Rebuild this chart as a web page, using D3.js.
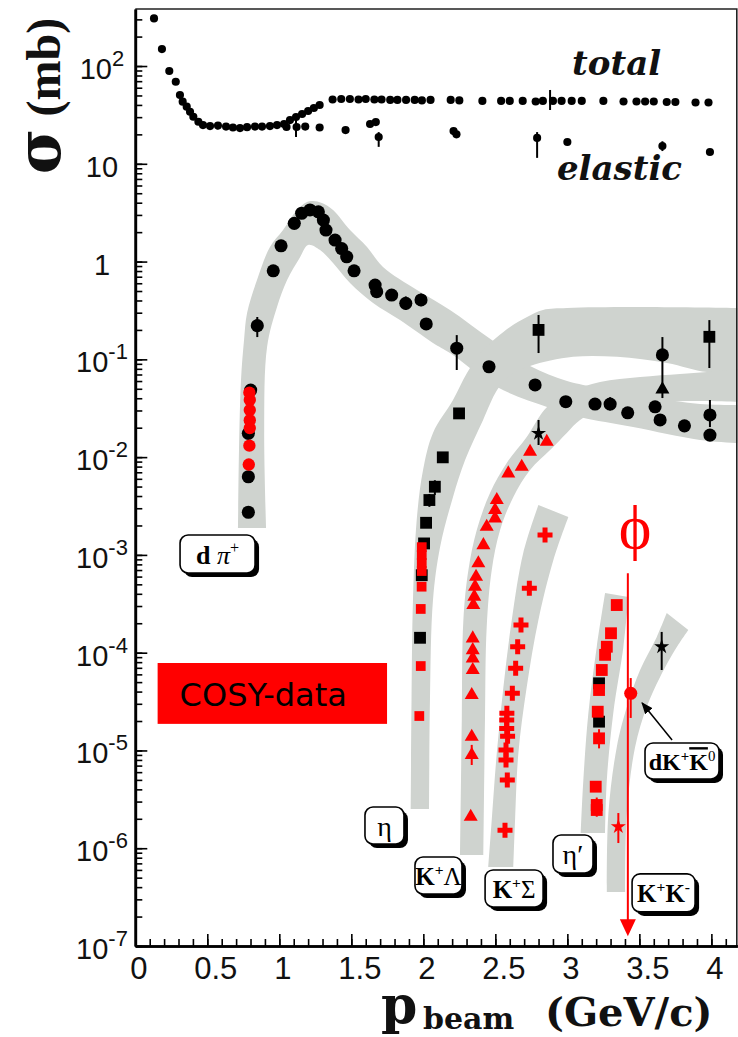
<!DOCTYPE html>
<html>
<head>
<meta charset="utf-8">
<script src="https://cdn.jsdelivr.net/npm/d3@7"></script>
<style>
  body { margin: 0; background: #fff; }
  svg { display: block; }
</style>
</head>
<body>
<svg id="chart" width="738" height="1037"></svg>
<script>
// ---- ticks ----
const xTicks = [0, 0.5, 1, 1.5, 2, 2.5, 3, 3.5, 4];
const xTickLabels = ['0', '0.5', '1', '1.5', '2', '2.5', '3', '3.5', '4'];
const yTicks = [1e-7, 1e-6, 1e-5, 1e-4, 1e-3, 1e-2, 1e-1, 1, 10, 100];
const yTickLabels = [['10', '-7'], ['10', '-6'], ['10', '-5'], ['10', '-4'], ['10', '-3'],
  ['10', '-2'], ['10', '-1'], ['1', ''], ['10', ''], ['10', '2']];

// ---- data points: [p_beam (GeV/c), sigma (mb)] ----
const totalXS = [[0.13, 307], [0.185, 149], [0.236, 88.9], [0.281, 69], [0.31, 50.5], [0.329, 43.2],
  [0.357, 38.4], [0.38, 34.1], [0.403, 30.3], [0.438, 26.9], [0.47, 24.9], [0.519, 24.3], [0.574, 24.6],
  [0.63, 24.0], [0.678, 23.5], [0.727, 23.2], [0.776, 23.7], [0.831, 24.0], [0.88, 24.0], [0.935, 24.3],
  [0.984, 24.9], [1.033, 25.5], [1.074, 28.0], [1.116, 30.1], [1.158, 32.3], [1.2, 34.7], [1.24, 37.2],
  [1.28, 39.9], [1.37, 45.4], [1.43, 46], [1.49, 46], [1.55, 45.5], [1.6, 46], [1.66, 45.5], [1.71, 45.5],
  [1.77, 45], [1.82, 45], [1.88, 45], [1.94, 45], [1.99, 44.5], [2.05, 45], [2.19, 45], [2.25, 44.5],
  [2.41, 44], [2.54, 44], [2.6, 44], [2.69, 44], [2.78, 43.4], [2.83, 44], [2.9, 44], [2.96, 44],
  [3.03, 44], [3.1, 44], [3.25, 44], [3.39, 43.4], [3.48, 43.4], [3.54, 43.4], [3.6, 43.4], [3.69, 42.9],
  [3.75, 42.9], [3.89, 42.4], [3.98, 42.4]];
const elasticXS = [[1.05, 23.8], [1.12, 23.8], [1.18, 24], [1.28, 23.5], [1.46, 22.1], [1.63, 25.5],
  [1.67, 26.7], [1.69, 18.8], [2.21, 21.6], [2.23, 20.0], [2.79, 18.4], [3.0, 16.7], [3.66, 15.2], [3.99, 13.2]];

const dpiBlack = [[0.785, 0.00273], [0.785, 0.0063], [0.785, 0.0175], [0.801, 0.0485], [0.847, 0.221],
  [0.958, 0.805], [1.012, 1.45], [1.104, 2.46], [1.155, 3.12], [1.213, 3.37], [1.271, 3.23], [1.306, 2.66],
  [1.324, 2.1], [1.387, 1.66], [1.433, 1.36], [1.468, 1.12], [1.519, 0.805], [1.665, 0.575], [1.676, 0.492],
  [1.78, 0.455], [1.878, 0.374], [1.984, 0.405], [2.02, 0.23], [2.232, 0.13], [2.456, 0.084], [2.776, 0.0547],
  [2.989, 0.0369], [3.192, 0.0349], [3.297, 0.0349], [3.419, 0.0284], [3.609, 0.0327], [3.644, 0.024],
  [3.813, 0.0209], [3.99, 0.027], [3.99, 0.0168]];
const dpiRed = [[0.792, 0.0456], [0.795, 0.0384], [0.795, 0.0303], [0.795, 0.0239], [0.795, 0.0198],
  [0.792, 0.0131], [0.788, 0.0084]];

const etaBlack = [[2.8, 0.2], [3.986, 0.17], [2.248, 0.028], [2.135, 0.00995], [2.08, 0.00498],
  [2.042, 0.00364], [2.019, 0.00213], [2.005, 0.00131], [1.989, 6.2e-4], [1.977, 1.42e-4]];
const etaBlackCircle = [[3.66, 0.111]];
const etaRed = [[1.989, 1.2e-3], [1.989, 9.97e-4], [1.989, 8.26e-4], [1.989, 6.84e-4], [1.988, 4.73e-4],
  [1.982, 2.8e-4], [1.982, 7.3e-5], [1.972, 2.25e-5]];

const kLambdaRed = [[2.857, 0.01436], [2.741, 0.01135], [2.683, 0.00797], [2.59, 0.00682], [2.51, 0.00364],
  [2.498, 0.00288], [2.498, 0.00236], [2.44, 0.00194], [2.417, 0.00126], [2.382, 8.2e-4], [2.366, 5.98e-4],
  [2.359, 4.73e-4], [2.354, 3.74e-4], [2.347, 3.07e-4], [2.343, 1.4e-4], [2.343, 1.06e-4], [2.343, 8.75e-5],
  [2.343, 6.65e-5], [2.336, 3.69e-5], [2.336, 1.38e-5], [2.336, 8.97e-6], [2.329, 2.1e-6]];
const kLambdaBlack = [[3.66, 0.0493]];
const kLambdaBlackStar = [[2.8, 0.0175]];

const kSigmaRed = [[2.845, 0.0016], [2.736, 4.55e-4], [2.678, 1.92e-4], [2.655, 1.15e-4], [2.641, 6.92e-5],
  [2.618, 3.84e-5], [2.58, 2.4e-5], [2.579, 2.05e-5], [2.579, 1.68e-5], [2.585, 1.4e-5], [2.574, 1.01e-5],
  [2.574, 7.98e-6], [2.583, 4.99e-6], [2.567, 1.53e-6]];

const etaPrimeRed = [[3.343, 3.07e-4], [3.303, 1.58e-4], [3.274, 1.15e-4], [3.262, 9.5e-5], [3.239, 6.65e-5],
  [3.22, 4.15e-5], [3.211, 2.49e-5], [3.22, 1.33e-5], [3.197, 4.26e-6], [3.204, 2.77e-6], [3.204, 2.46e-6]];
const etaPrimeBlack = [[3.22, 4.86e-5], [3.22, 1.97e-5]];

const kkRedStar = [[3.354, 1.66e-6]];
const kkRedCircle = [[3.44, 3.84e-5]];
const dkkBlackStar = [[3.655, 1.15e-4]];

// error bars: [p, low, high]
const errBlack = [[0.57, 22.5, 26.5], [1.116, 18.8, 28], [2.88, 35.5, 56.9], [1.69, 14.9, 21.1],
  [2.79, 11.5, 21.1], [3.66, 13.5, 17], [0.847, 0.169, 0.271], [2.232, 0.0778, 0.177],
  [3.99, 0.0203, 0.0384], [1.878, 0.32, 0.44], [1.984, 0.35, 0.47], [3.297, 0.03, 0.041],
  [0.801, 0.043, 0.055], [2.8, 0.116, 0.284], [3.986, 0.0815, 0.252], [3.66, 0.0402, 0.169],
  [2.08, 0.0041, 0.0058], [2.042, 0.0031, 0.0042], [2.8, 0.0133, 0.024], [3.655, 6.65e-5, 1.63e-4]];
const errRed = [[2.336, 7.1e-6, 1.14e-5], [3.354, 1.13e-6, 2.29e-6], [3.44, 2.15e-5, 5.5e-5],
  [3.22, 1.05e-5, 1.65e-5], [3.204, 2.1e-6, 3.3e-6]];

// ---- grey bands: two edges each, [p, sigma] ----
const dpiEdgeA = [[0.713, 1.88e-3], [0.720, 0.0118], [0.734, 0.0615], [0.755, 0.158], [0.776, 0.298],
  [0.845, 0.647], [0.935, 1.41], [1.026, 2.10], [1.123, 3.37], [1.192, 4.06], [1.234, 4.16], [1.296, 3.97],
  [1.373, 3.37], [1.491, 2.10], [1.609, 1.41], [1.720, 0.88], [1.956, 0.512], [2.185, 0.32], [2.456, 0.165],
  [2.741, 0.0855], [2.998, 0.0601], [3.227, 0.0509], [3.574, 0.0412], [3.921, 0.0349], [4.199, 0.0341]];
const dpiEdgeB = [[4.199, 0.0139], [3.921, 0.015], [3.456, 0.0203], [3.088, 0.0257], [2.859, 0.0326],
  [2.512, 0.0521], [2.185, 0.116], [2.067, 0.147], [1.838, 0.252], [1.651, 0.377], [1.491, 0.604],
  [1.373, 0.966], [1.283, 1.31], [1.2, 1.48], [1.144, 1.11], [1.054, 0.647], [0.984, 0.343], [0.915, 0.134],
  [0.895, 0.0189], [0.908, 1.88e-3]];
const etaEdgeA = [[1.9125, 2.52e-6], [1.918, 3.28e-5], [1.928, 3.46e-4], [1.954, 2.28e-3], [1.998, 7.38e-3],
  [2.067, 0.0177], [2.206, 0.0384], [2.303, 0.0725], [2.415, 0.124], [2.602, 0.214], [2.72, 0.271],
  [2.831, 0.32], [2.998, 0.335], [3.456, 0.343], [4.199, 0.335]];
const etaEdgeB = [[4.199, 0.0778], [3.97, 0.0743], [3.692, 0.0918], [3.345, 0.106], [3.04, 0.106],
  [2.741, 0.0855], [2.602, 0.0692], [2.512, 0.0485], [2.415, 0.024], [2.29, 9.35e-3], [2.206, 3.91e-3],
  [2.116, 1.2e-3], [2.067, 3.46e-4], [2.046, 3.28e-5], [2.04, 2.52e-6]];
const klEdgeA = [[2.255, 8.53e-7], [2.267, 2.05e-5], [2.278, 2.16e-4], [2.313, 7.02e-4], [2.371, 1.8e-3],
  [2.463, 4.3e-3], [2.579, 8.71e-3], [2.718, 0.0161], [2.859, 0.0326], [3.019, 0.0463], [3.227, 0.0586],
  [3.505, 0.0659], [3.782, 0.0708], [3.97, 0.0743], [4.199, 0.0796]];
const klEdgeB = [[4.199, 0.0366], [3.921, 0.0375], [3.505, 0.0358], [3.227, 0.0303], [3.088, 0.024],
  [2.996, 0.0177], [2.88, 0.0118], [2.741, 7.38e-3], [2.625, 3.91e-3], [2.533, 1.8e-3], [2.475, 7.02e-4],
  [2.44, 1.83e-4], [2.428, 2.05e-5], [2.417, 8.53e-7]];
const ksEdgeA = [[2.451, 6.43e-7], [2.475, 1.95e-6], [2.51, 9.42e-6], [2.556, 4.46e-5], [2.614, 2.16e-4],
  [2.694, 1.05e-3], [2.799, 3.24e-3]];
const ksEdgeB = [[3.007, 2.44e-3], [2.903, 8.87e-4], [2.799, 2.16e-4], [2.718, 4.46e-5], [2.66, 9.42e-6],
  [2.637, 1.95e-6], [2.625, 6.43e-7]];
const etapEdgeA = [[3.093, 1.43e-6], [3.111, 4.99e-6], [3.146, 2.42e-5], [3.204, 1.14e-4], [3.262, 4.07e-4]];
const etapEdgeB = [[3.424, 3.71e-4], [3.389, 1.14e-4], [3.319, 2.42e-5], [3.274, 4.99e-6], [3.262, 1.43e-6]];
const kkEdgeA = [[3.274, 3.56e-7], [3.285, 2.29e-6], [3.343, 1.08e-5], [3.413, 2.78e-5], [3.505, 6.65e-5],
  [3.621, 1.45e-4], [3.69, 2.55e-4]];
const kkEdgeB = [[3.84, 1.71e-4], [3.76, 1.14e-4], [3.644, 5.64e-5], [3.551, 2.78e-5], [3.47, 1.08e-5],
  [3.413, 2.29e-6], [3.401, 3.56e-7]];

// ---- annotations (anchors in data coords) ----
const boxAnchors = [[0.585, 9.75e-4], [1.744, 1.63e-6], [2.119, 5.02e-7], [2.644, 3.7e-7],
  [3.053, 8.33e-7], [3.682, 3.33e-7], [3.81, 7.45e-6]];
const boxTexts = [
  [['d', 'b'], [' ', ''], ['π', 'i'], ['+', '^']],
  [['η', '']],
  [['K', 'b'], ['+', '^b'], ['Λ', '']],
  [['K', 'b'], ['+', '^b'], ['Σ', '']],
  [['η′', '']],
  [['K', 'b'], ['+', '^b'], ['K', 'b'], ['-', '^b']],
  [['dK', 'b'], ['+', '^b'], ['K', 'bo'], ['0', '^']]
];
const dkkArrow = [[3.727, 1.28e-5], [3.519, 3.06e-5]];
const phiLine = [3.42, 6.5e-4, 1.26e-7];
const phiLabel = [3.47, 1.18e-3];
const cosyBox = [[0.155, 7.84e-5], [1.748, 1.87e-5]];
const totalLabel = [3.033, 80.9];
const elasticLabel = [2.928, 6.82];

// ---- drawing ----
const BAND = '#cfd3cf';
const RED = '#ff0000';
const svg = d3.select('#chart');
const x = d3.scaleLinear().domain([0, 4.18]).range([135.3, 737.3]);
const y = d3.scaleLog().domain([1e-7, 383]).range([946, 9]);

const defs = svg.append('defs');
defs.append('clipPath').attr('id', 'plot').append('rect')
  .attr('x', x(0)).attr('y', y(383)).attr('width', x(4.18) - x(0)).attr('height', y(1e-7) - y(383));
defs.append('marker').attr('id', 'ah').attr('viewBox', '0 0 10 10').attr('refX', 9).attr('refY', 5)
  .attr('markerWidth', 8).attr('markerHeight', 8).attr('orient', 'auto')
  .append('path').attr('d', 'M0,1L10,5L0,9Z').attr('fill', '#000');

// bands
const edge = d3.line().x(d => x(d[0])).y(d => y(d[1])).curve(d3.curveCatmullRom);
const bands = [[dpiEdgeA, dpiEdgeB], [etaEdgeA, etaEdgeB], [klEdgeA, klEdgeB],
  [ksEdgeA, ksEdgeB], [etapEdgeA, etapEdgeB], [kkEdgeA, kkEdgeB]];
svg.append('g').attr('clip-path', 'url(#plot)').selectAll('path').data(bands).join('path')
  .attr('d', b => edge(b[0]) + 'L' + edge(b[1]).slice(1) + 'Z')
  .attr('fill', BAND);

// frame
svg.append('path')
  .attr('d', `M${x(0)},${y(383)}H${x(4.18) - 0.5}V${y(1e-7)}`)
  .attr('fill', 'none').attr('stroke', '#222').attr('stroke-width', 1.6);

// axes
const fontSans = 'Liberation Sans, Arial, sans-serif';
const yMinorAx = svg.append('g').attr('transform', `translate(${x(0)},0)`)
  .call(d3.axisLeft(y).tickValues(y.ticks()).tickSize(-7).tickFormat('').tickSizeOuter(0));
const yMajorAx = svg.append('g').attr('transform', `translate(${x(0)},0)`)
  .call(d3.axisLeft(y).tickValues(yTicks).tickSize(-12).tickFormat('').tickSizeOuter(0));
const xMinorAx = svg.append('g').attr('transform', `translate(0,${y(1e-7)})`)
  .call(d3.axisBottom(x).tickValues(d3.range(0, 4.15, 0.1)).tickSize(-7).tickFormat('').tickSizeOuter(0));
const xMajorAx = svg.append('g').attr('transform', `translate(0,${y(1e-7)})`)
  .call(d3.axisBottom(x).tickValues(xTicks).tickSize(-12).tickFormat((d, i) => xTickLabels[i]).tickSizeOuter(0));
[yMinorAx, yMajorAx, xMinorAx, xMajorAx].forEach(a => {
  a.selectAll('.tick line').attr('stroke', '#000').attr('stroke-width', 1.6);
  a.select('.domain').attr('stroke', '#000').attr('stroke-width', 2.6);
});
xMajorAx.selectAll('.tick text')
  .attr('y', 33).attr('dy', 0)
  .attr('dx', (d, i) => (xTickLabels[i].length > 1 ? 8 : 3))
  .attr('font-family', fontSans).attr('font-size', 31).attr('fill', '#111');

const yLab = svg.append('g').selectAll('text').data(yTicks).join('text')
  .attr('x', 102).attr('y', d => y(d) + 13).attr('text-anchor', 'middle')
  .attr('font-family', fontSans).attr('font-size', 29).attr('fill', '#111');
yLab.append('tspan').text((d, i) => yTickLabels[i][0]);
yLab.append('tspan').attr('dy', -13).attr('font-size', 22).text((d, i) => yTickLabels[i][1]);

// axis titles
const serifB = 'DejaVu Serif, serif';
const yTitle = svg.append('text').attr('transform', 'translate(60,96) rotate(-90)')
  .attr('text-anchor', 'middle').attr('font-weight', 'bold').attr('fill', '#111');
yTitle.append('tspan').attr('font-family', serifB).attr('font-size', 62).text('σ');
yTitle.append('tspan').attr('font-family', 'Liberation Serif, serif').attr('font-size', 48).text(' (mb)');

svg.append('text').attr('x', 381).attr('y', 1023).attr('font-family', serifB).attr('font-weight', 'bold')
  .attr('font-size', 52).attr('fill', '#111').text('p');
svg.append('text').attr('x', 423).attr('y', 1029).attr('font-family', serifB).attr('font-weight', 'bold')
  .attr('font-size', 30).attr('fill', '#111').text('beam');
svg.append('text').attr('x', 545).attr('y', 1026).attr('font-family', serifB).attr('font-weight', 'bold')
  .attr('font-size', 40).attr('fill', '#111').text('(GeV/c)');

// total / elastic labels
[[totalLabel, 'total'], [elasticLabel, 'elastic']].forEach(([pos, s]) => {
  svg.append('text').attr('x', x(pos[0])).attr('y', y(pos[1]))
    .attr('font-family', serifB).attr('font-weight', 'bold').attr('font-style', 'italic')
    .attr('font-size', 34).attr('fill', '#111').text(s);
});

// COSY legend box
svg.append('rect').attr('x', x(cosyBox[0][0])).attr('y', y(cosyBox[0][1]))
  .attr('width', x(cosyBox[1][0]) - x(cosyBox[0][0])).attr('height', y(cosyBox[1][1]) - y(cosyBox[0][1]))
  .attr('fill', RED);
svg.append('text').attr('x', x(cosyBox[0][0]) + 22).attr('y', y(cosyBox[0][1]) + 43)
  .attr('font-family', 'DejaVu Sans, Verdana, sans-serif').attr('font-size', 32).attr('fill', '#000')
  .text('COSY-data');

// error bars
function errBars(data, color) {
  svg.append('g').selectAll('line').data(data).join('line')
    .attr('x1', d => x(d[0])).attr('x2', d => x(d[0]))
    .attr('y1', d => y(d[1])).attr('y2', d => y(d[2]))
    .attr('stroke', color).attr('stroke-width', 2);
}
errBars(errBlack, '#000');
errBars(errRed, RED);

// markers
function marks(data, type, size, color) {
  svg.append('g').selectAll('path').data(data).join('path')
    .attr('transform', d => `translate(${x(d[0])},${y(d[1])})`)
    .attr('d', d3.symbol().type(type).size(size))
    .attr('fill', color);
}
marks(totalXS, d3.symbolCircle, 52, '#000');
marks(elasticXS, d3.symbolCircle, 52, '#000');
marks(dpiBlack, d3.symbolCircle, 135, '#000');
marks(dpiRed, d3.symbolCircle, 120, RED);
marks(etaBlack, d3.symbolSquare, 140, '#000');
marks(etaBlackCircle, d3.symbolCircle, 135, '#000');
marks(etaRed, d3.symbolSquare, 95, RED);
marks(kLambdaRed, d3.symbolTriangle, 85, RED);
marks(kLambdaBlack, d3.symbolTriangle, 85, '#000');
marks(kLambdaBlackStar, d3.symbolStar, 70, '#000');
marks(kSigmaRed, d3.symbolCross, 125, RED);
marks(etaPrimeBlack, d3.symbolSquare, 140, '#000');
marks(etaPrimeRed, d3.symbolSquare, 140, RED);
marks(kkRedCircle, d3.symbolCircle, 135, RED);
marks(kkRedStar, d3.symbolStar, 70, RED);
marks(dkkBlackStar, d3.symbolStar, 70, '#000');

// phi threshold
const phx = x(phiLine[0]);
const phTip = y(phiLine[2]);
svg.append('line').attr('x1', phx).attr('x2', phx).attr('y1', y(phiLine[1])).attr('y2', phTip - 10)
  .attr('stroke', RED).attr('stroke-width', 2);
svg.append('path').attr('d', `M${phx - 8},${phTip - 17}L${phx + 8},${phTip - 17}L${phx},${phTip}Z`).attr('fill', RED);
svg.append('text').attr('x', x(phiLabel[0])).attr('y', y(phiLabel[1])).attr('text-anchor', 'middle')
  .attr('font-family', 'Liberation Serif, DejaVu Serif, serif').attr('font-size', 62).attr('fill', RED)
  .text('ϕ');

// arrow to dK+K0bar point
svg.append('line').attr('x1', x(dkkArrow[0][0])).attr('y1', y(dkkArrow[0][1]))
  .attr('x2', x(dkkArrow[1][0])).attr('y2', y(dkkArrow[1][1]))
  .attr('stroke', '#000').attr('stroke-width', 1.5).attr('marker-end', 'url(#ah)');

// reaction label boxes
const boxSizes = [[79, 42], [43, 41], [51, 41], [62, 41], [44, 42], [67, 42], [78, 40]];
const boxFont = [26, 28, 25, 25, 28, 25, 24];
boxAnchors.forEach((a, i) => {
  const cx = x(a[0]), cy = y(a[1]);
  const [w, h] = boxSizes[i];
  const g = svg.append('g');
  g.append('rect').attr('x', cx - w / 2 + 4).attr('y', cy - h / 2 + 4).attr('width', w - 4).attr('height', h - 4)
    .attr('rx', 8).attr('fill', '#000');
  g.append('rect').attr('x', cx - w / 2).attr('y', cy - h / 2).attr('width', w - 4).attr('height', h - 4)
    .attr('rx', 8).attr('fill', '#fff').attr('stroke', '#000').attr('stroke-width', 1.6);
  const fs = boxFont[i];
  const t = g.append('text').attr('x', cx - 2).attr('y', cy + fs * 0.3).attr('text-anchor', 'middle')
    .attr('font-family', 'Liberation Serif, Times New Roman, serif').attr('font-size', fs).attr('fill', '#000');
  let up = false;
  boxTexts[i].forEach(([s, st]) => {
    const ts = t.append('tspan').text(s);
    if (st.includes('b')) ts.attr('font-weight', 'bold');
    if (st.includes('i')) ts.attr('font-style', 'italic');
    if (st.includes('o')) ts.style('text-decoration', 'overline');
    if (st.includes('^')) {
      ts.attr('font-size', fs * 0.62).attr('dy', up ? 0 : -fs * 0.4);
      up = true;
    } else if (up) {
      ts.attr('dy', fs * 0.4);
      up = false;
    }
  });
});
</script>
</body>
</html>
